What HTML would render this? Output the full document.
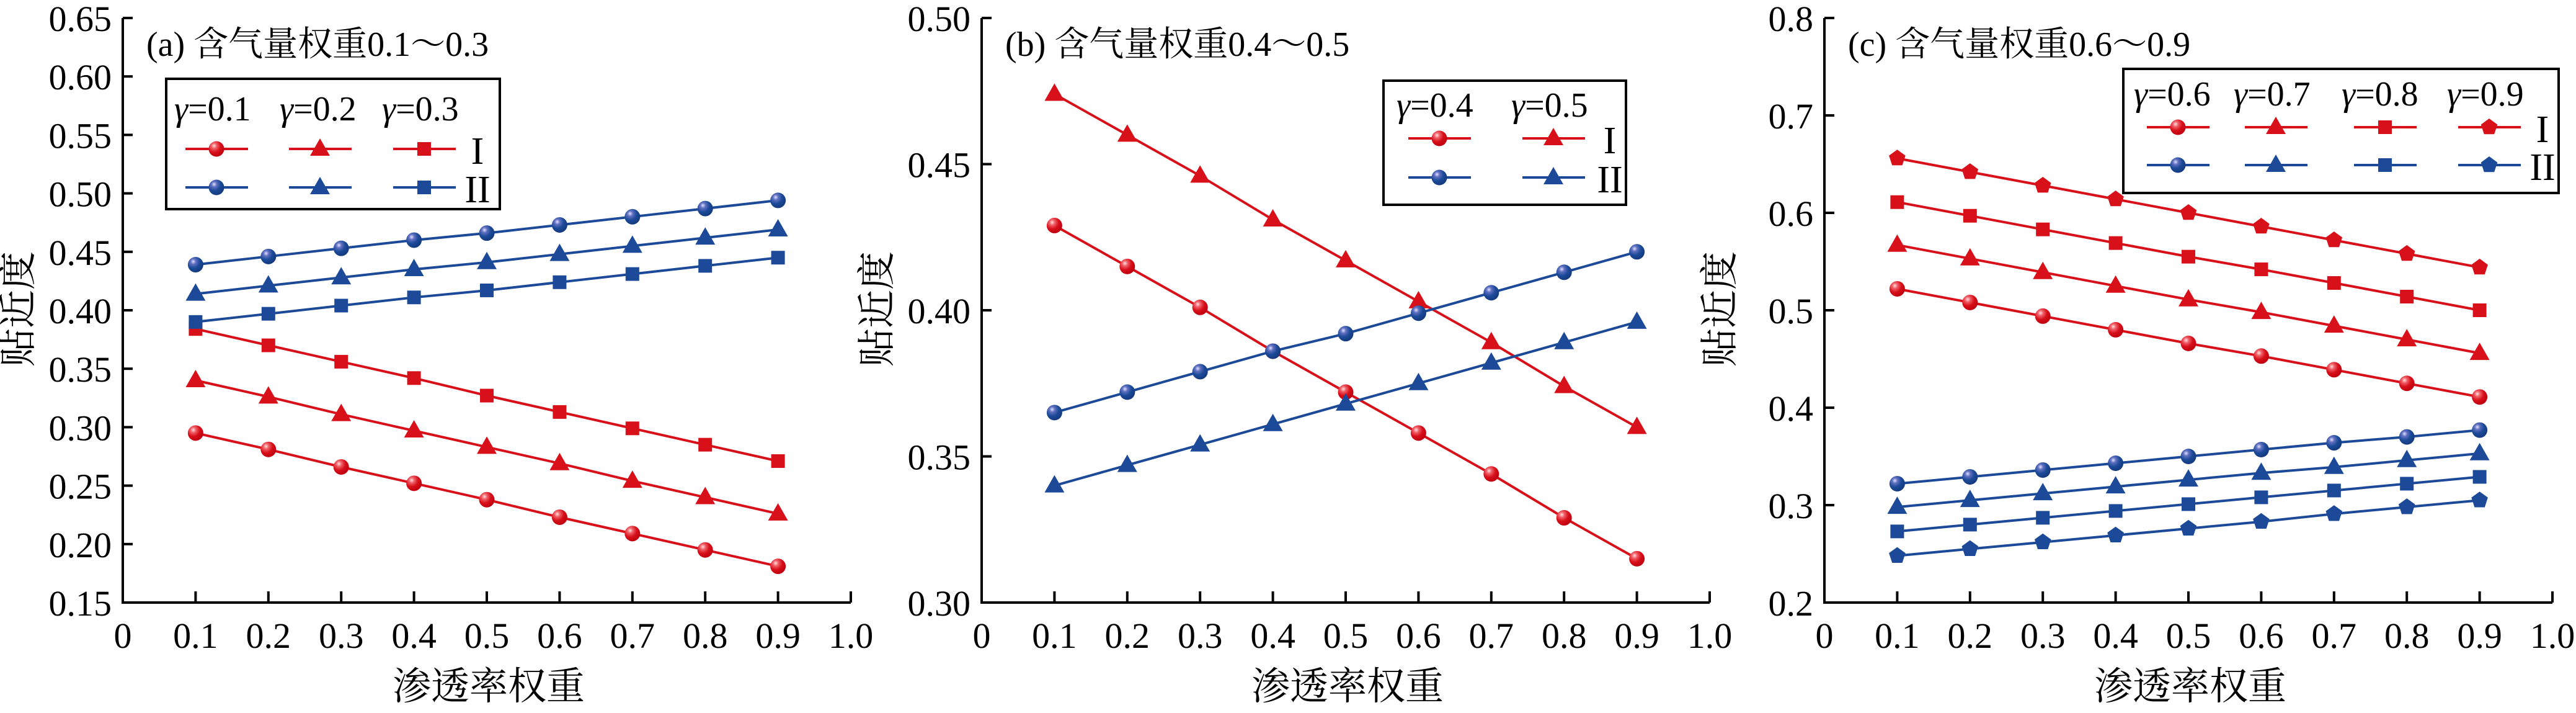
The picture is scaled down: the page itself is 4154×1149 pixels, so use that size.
<!DOCTYPE html>
<html><head><meta charset="utf-8">
<style>
html,body{margin:0;padding:0;background:#fff;}
svg{display:block;}
text{font-family:"Liberation Serif","Noto Serif CJK SC",serif;fill:#000;}
.cjk{font-family:"Liberation Serif","Noto Serif CJK SC",serif;}
</style></head>
<body>
<svg id="fig" width="4154" height="1149" viewBox="0 0 4154 1149" xmlns="http://www.w3.org/2000/svg">
<defs>
<radialGradient id="gr" cx="0.35" cy="0.3" r="0.7"><stop offset="0" stop-color="#ffe0e0"/><stop offset="0.25" stop-color="#f06068"/><stop offset="0.6" stop-color="#d7101a"/><stop offset="1" stop-color="#c00010"/></radialGradient>
<radialGradient id="gb" cx="0.35" cy="0.3" r="0.7"><stop offset="0" stop-color="#e0e0ff"/><stop offset="0.25" stop-color="#6070c0"/><stop offset="0.6" stop-color="#1c4a98"/><stop offset="1" stop-color="#143a80"/></radialGradient>
</defs>
</svg>
<script>
// x categories
const xVals = [0.1,0.2,0.3,0.4,0.5,0.6,0.7,0.8,0.9];
const xTicks = ["0","0.1","0.2","0.3","0.4","0.5","0.6","0.7","0.8","0.9","1.0"];
// panel a
const aRedCircle = [0.295,0.281,0.266,0.252,0.238,0.223,0.209,0.195,0.181];
const aRedTri    = [0.340,0.326,0.311,0.297,0.283,0.269,0.254,0.240,0.226];
const aRedSq     = [0.384,0.370,0.356,0.342,0.327,0.313,0.299,0.285,0.271];
const aBlueCircle= [0.439,0.446,0.453,0.460,0.466,0.473,0.480,0.487,0.494];
const aBlueTri   = [0.414,0.421,0.428,0.435,0.441,0.448,0.455,0.462,0.469];
const aBlueSq    = [0.390,0.397,0.404,0.411,0.417,0.424,0.431,0.438,0.445];
const aYTicks = ["0.15","0.20","0.25","0.30","0.35","0.40","0.45","0.50","0.55","0.60","0.65"];
// panel b
const bRedCircle = [0.429,0.415,0.401,0.386,0.372,0.358,0.344,0.329,0.315];
const bRedTri    = [0.474,0.460,0.446,0.431,0.417,0.403,0.389,0.374,0.360];
const bBlueCircle= [0.365,0.372,0.379,0.386,0.392,0.399,0.406,0.413,0.420];
const bBlueTri   = [0.340,0.347,0.354,0.361,0.368,0.375,0.382,0.389,0.396];
const bYTicks = ["0.30","0.35","0.40","0.45","0.50"];
// panel c
const cRedCircle = [0.522,0.508,0.494,0.480,0.466,0.453,0.439,0.425,0.411];
const cRedTri    = [0.567,0.553,0.539,0.525,0.511,0.498,0.484,0.470,0.456];
const cRedSq     = [0.611,0.597,0.583,0.569,0.555,0.542,0.528,0.514,0.500];
const cRedPent   = [0.656,0.642,0.628,0.614,0.600,0.586,0.572,0.558,0.544];
const cBlueCircle= [0.322,0.329,0.336,0.343,0.350,0.357,0.364,0.370,0.377];
const cBlueTri   = [0.298,0.305,0.312,0.319,0.326,0.333,0.339,0.346,0.353];
const cBlueSq    = [0.273,0.280,0.287,0.294,0.301,0.308,0.315,0.322,0.329];
const cBluePent  = [0.248,0.255,0.262,0.269,0.276,0.283,0.291,0.298,0.305];
const cYTicks = ["0.2","0.3","0.4","0.5","0.6","0.7","0.8"];

const NS="http://www.w3.org/2000/svg";
const svg=document.getElementById('fig');
const RED="#d7101a", BLUE="#1c4a98";
function mk(tag,attrs,parent){const e=document.createElementNS(NS,tag);for(const k in attrs)e.setAttribute(k,attrs[k]);(parent||svg).appendChild(e);return e;}

function marker(g,shape,color,cx,cy){
  let e;
  if(shape==='circle'){
    e=mk('circle',{cx:cx,cy:cy,r:12.5,fill:color===RED?'url(#gr)':'url(#gb)'},g);
  }else if(shape==='tri'){
    e=mk('polygon',{points:`${cx},${cy-17} ${cx-16},${cy+11} ${cx+16},${cy+11}`,fill:color},g);
  }else if(shape==='sq'){
    e=mk('rect',{x:cx-11,y:cy-11,width:22,height:22,fill:color},g);
  }else{
    let p=[];for(let i=0;i<5;i++){const a=-Math.PI/2+i*2*Math.PI/5;p.push((cx+14*Math.cos(a)).toFixed(1)+','+(cy+14*Math.sin(a)).toFixed(1));}
    e=mk('polygon',{points:p.join(' '),fill:color},g);
  }
  return e;
}

function panel(cfg){
  const P=mk('g',{});
  
  
  const x0=cfg.x0, x1=cfg.x0+1174, yT=29, yB=971;
  const xs=v=>x0+v*1174;
  const ymin=parseFloat(cfg.yTicks[0]), ymax=parseFloat(cfg.yTicks[cfg.yTicks.length-1]);
  const ys=v=>yB-(v-ymin)/(ymax-ymin)*(yB-yT);
  // axes
  const ax=mk('path',{d:`M${x0},${yT} L${x0},${yB} L${x1},${yB}`,stroke:'#000','stroke-width':4,fill:'none'},P);
  
  
  cfg.yTicks.forEach(t=>{
    const y=ys(parseFloat(t));
    mk('line',{x1:x0,x2:x0+16,y1:y,y2:y,stroke:'#000','stroke-width':4},P);
    const tx=mk('text',{x:x0-18,y:y+21,'font-size':58,'text-anchor':'end'},P);
    tx.textContent=t;
    
    
  });
  xTicks.forEach((t,i)=>{
    const x=xs(i/10);
    if(i>0) mk('line',{x1:x,x2:x,y1:yB,y2:yB-18,stroke:'#000','stroke-width':4},P);
    const tx=mk('text',{x:x,y:1044,'font-size':58,'text-anchor':'middle'},P);
    tx.textContent=t;
    
    
  });
  const xl=mk('text',{x:x0+590,y:1127,'font-size':62,'text-anchor':'middle'},P);
  xl.textContent='渗透率权重';
  
  
  const yl=mk('text',{x:0,y:0,'font-size':62,'text-anchor':'middle',transform:`translate(${x0-148},${498}) rotate(-90)`},P);
  yl.textContent='贴近度';
  
  
  const tt=mk('text',{x:x0+38,y:90,'font-size':56},P);
  tt.textContent=cfg.title;
  
  
  // series
  cfg.series.forEach(s=>{
    const g=mk('g',{},P);
    
    
    const pts=s.data.map((v,i)=>xs(xVals[i]).toFixed(1)+','+ys(v).toFixed(1)).join(' ');
    mk('polyline',{points:pts,fill:'none',stroke:s.color,'stroke-width':4},g);
    s.data.forEach((v,i)=>{marker(g,s.shape,s.color,xs(xVals[i]),ys(v));});
  });
  // legend
  const L=cfg.legend;
  const lg=mk('g',{},P);
  
  
  mk('rect',{x:L.box[0],y:L.box[1],width:L.box[2],height:L.box[3],fill:'#fff',stroke:'#000','stroke-width':4},lg);
  L.cols.forEach((c,j)=>{
    const h=mk('text',{x:L.hx[j],y:L.hy,'font-size':56},lg);
    h.innerHTML='<tspan font-style="italic">γ</tspan>='+c;
    
    
    [[L.r1,RED],[L.r2,BLUE]].forEach(([ry,col])=>{
      mk('line',{x1:L.sx[j],x2:L.sx[j]+101,y1:ry,y2:ry,stroke:col,'stroke-width':4},lg);
      marker(lg,L.shapes[j],col,L.sx[j]+50,ry);
    });
  });
  const r1=mk('text',{x:L.rx,y:L.r1+24,'font-size':62,'text-anchor':'middle'},lg);r1.textContent='I';
  
  
  const r2=mk('text',{x:L.rx,y:L.r2+24,'font-size':62,'text-anchor':'middle'},lg);r2.textContent='II';
  
  
}

panel({name:'panel-a',x0:198,title:'(a) 含气量权重0.1～0.3',yTicks:aYTicks,
 series:[
  {name:'a-I-0.1',data:aRedCircle,color:RED,shape:'circle'},
  {name:'a-I-0.2',data:aRedTri,color:RED,shape:'tri'},
  {name:'a-I-0.3',data:aRedSq,color:RED,shape:'sq'},
  {name:'a-II-0.1',data:aBlueCircle,color:BLUE,shape:'circle'},
  {name:'a-II-0.2',data:aBlueTri,color:BLUE,shape:'tri'},
  {name:'a-II-0.3',data:aBlueSq,color:BLUE,shape:'sq'}],
 legend:{box:[268,127,538,210],cols:['0.1','0.2','0.3'],shapes:['circle','tri','sq'],hx:[281,451,616],hy:194,sx:[299,466,634],r1:240,r2:302,rx:770}});

panel({name:'panel-b',x0:1583,title:'(b) 含气量权重0.4～0.5',yTicks:bYTicks,
 series:[
  {name:'b-I-0.4',data:bRedCircle,color:RED,shape:'circle'},
  {name:'b-I-0.5',data:bRedTri,color:RED,shape:'tri'},
  {name:'b-II-0.4',data:bBlueCircle,color:BLUE,shape:'circle'},
  {name:'b-II-0.5',data:bBlueTri,color:BLUE,shape:'tri'}],
 legend:{box:[2231,130,391,200],cols:['0.4','0.5'],shapes:['circle','tri'],hx:[2252,2437],hy:188,sx:[2271,2455],r1:223,r2:286,rx:2596}});

panel({name:'panel-c',x0:2942,title:'(c) 含气量权重0.6～0.9',yTicks:cYTicks,
 series:[
  {name:'c-I-0.6',data:cRedCircle,color:RED,shape:'circle'},
  {name:'c-I-0.7',data:cRedTri,color:RED,shape:'tri'},
  {name:'c-I-0.8',data:cRedSq,color:RED,shape:'sq'},
  {name:'c-I-0.9',data:cRedPent,color:RED,shape:'pent'},
  {name:'c-II-0.6',data:cBlueCircle,color:BLUE,shape:'circle'},
  {name:'c-II-0.7',data:cBlueTri,color:BLUE,shape:'tri'},
  {name:'c-II-0.8',data:cBlueSq,color:BLUE,shape:'sq'},
  {name:'c-II-0.9',data:cBluePent,color:BLUE,shape:'pent'}],
 legend:{box:[3424,111,702,200],cols:['0.6','0.7','0.8','0.9'],shapes:['circle','tri','sq','pent'],hx:[3441,3602,3776,3946],hy:170,sx:[3462,3620,3796,3964],r1:205,r2:266,rx:4100}});
</script>
</body></html>
